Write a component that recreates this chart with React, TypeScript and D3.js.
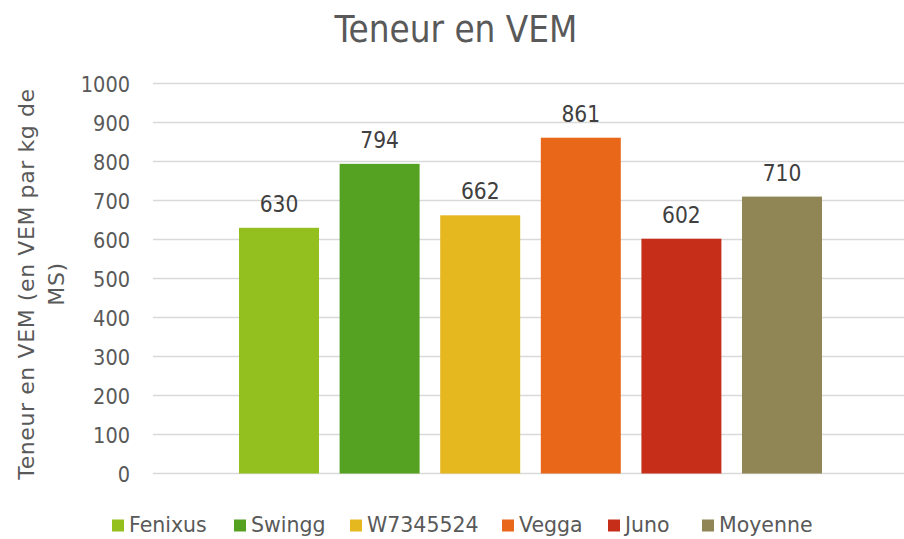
import React from "react";
import * as d3 from "d3";

const series = ["Fenixus", "Swingg", "W7345524", "Vegga", "Juno", "Moyenne"];
const values = [630, 794, 662, 861, 602, 710];
const colors = ["#93C01F", "#55A122", "#E5B81F", "#E86718", "#C62E1A", "#908554"];
const yTicks = [0, 100, 200, 300, 400, 500, 600, 700, 800, 900, 1000];
const title = "Teneur en VEM";
const yTitleLines = ["Teneur en VEM (en VEM par kg de", "MS)"];

const W = 904;
const H = 539;
const FONT = "'DejaVu Sans', Verdana, sans-serif";
const FONTC = "'DejaVu Sans Condensed', 'DejaVu Sans', sans-serif";

export default function App() {
  const x = d3.scaleBand<string>().domain(series).range([239, 822]).paddingInner(0.205).paddingOuter(0);
  const y = d3.scaleLinear().domain([0, 1000]).range([473.5, 83.5]);

  const legendX = [112, 234, 350, 502, 608, 702];

  return (
    <svg width={W} height={H} style={{ position: "absolute", left: 0, top: 0, background: "#fff" }}>
      <rect width={W} height={H} fill="#fff" />
      <text x={456} y={42} textAnchor="middle" fontFamily={FONTC} fontSize={36.5} fill="#595959">
        {title}
      </text>
      {yTicks.map((t) => (
        <g key={t}>
          <line x1={153} x2={904} y1={y(t)} y2={y(t)} stroke="#d9d9d9" strokeWidth={1.5} />
          <text x={130} y={y(t) + 8} textAnchor="end" fontFamily={FONTC} fontSize={21.5} fill="#595959">
            {t}
          </text>
        </g>
      ))}
      {yTitleLines.map((l, i) => (
        <text
          key={i}
          transform={`translate(${34 + i * 30},284) rotate(-90)`}
          textAnchor="middle"
          fontFamily={FONT}
          fontSize={22}
          letterSpacing={0.6}
          fill="#595959"
        >
          {l}
        </text>
      ))}
      {series.map((s, i) => (
        <g key={s}>
          <rect x={x(s)} y={y(values[i])} width={x.bandwidth()} height={y(0) - y(values[i])} fill={colors[i]} />
          <text
            x={(x(s) as number) + x.bandwidth() / 2}
            y={y(values[i]) - 16}
            textAnchor="middle"
            fontFamily={FONTC}
            fontSize={22.5}
            fill="#404040"
          >
            {values[i]}
          </text>
        </g>
      ))}
      {series.map((s, i) => (
        <g key={"l" + s}>
          <rect x={legendX[i]} y={519.5} width={12} height={12} fill={colors[i]} />
          <text x={legendX[i] + 17} y={531.5} fontFamily={FONT} fontSize={20.5} fill="#595959">
            {s}
          </text>
        </g>
      ))}
    </svg>
  );
}
